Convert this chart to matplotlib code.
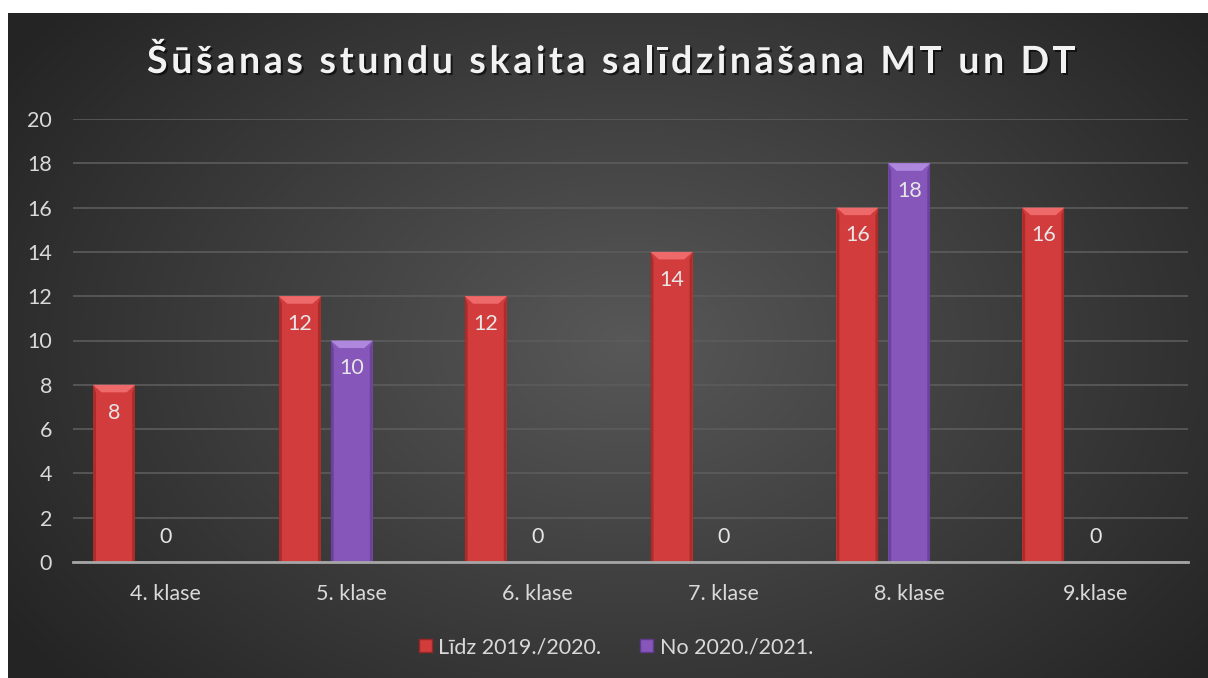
import matplotlib
matplotlib.use('Agg')
import numpy as np
import matplotlib.pyplot as plt
from matplotlib.patches import Polygon, Patch
from matplotlib.font_manager import FontProperties
import matplotlib.patheffects as pe

title = 'Šūšanas stundu skaita salīdzināšana MT un DT'
categories = ['4. klase', '5. klase', '6. klase', '7. klase', '8. klase', '9.klase']
series_names = ['Līdz 2019./2020.', 'No 2020./2021.']
lidz_2019 = [8, 12, 12, 14, 16, 16]
no_2020 = [0, 10, 0, 0, 18, 0]
y_ticks = [0, 2, 4, 6, 8, 10, 12, 14, 16, 18, 20]

FONT = ['Lato', 'DejaVu Sans']
plt.rcParams['font.family'] = FONT
FS = 15.5

W, H = 1208, 678
fig = plt.figure(figsize=(W / 100, H / 100), dpi=100)
fig.patch.set_facecolor('white')

# dark radial background
bg = fig.add_axes([8 / W, 0, 1200 / W, 665 / H])
gy, gx = np.mgrid[0:665, 0:1200]
r = np.sqrt(((gx - 620) / 750.0) ** 2 + ((gy - 330) / 520.0) ** 2)
r = np.clip(r, 0, 1)
c = (88 - (88 - 36) * r) / 255.0
bg.imshow(np.dstack([c, c, c]), extent=[0, 1, 0, 1], aspect='auto')
bg.axis('off')

ax = fig.add_axes([73 / W, 116 / H, 1115 / W, 443 / H])
ax.patch.set_alpha(0)

x = np.arange(len(categories))
bw = 0.226
offsets = [-0.279, 0.0]
styles = [('#d23c3c', '#ee6a6a', '#9c2525'), ('#8656bb', '#ad88dc', '#5f3a8c')]


def bevel_bar(xc, h, base, light, dark):
    if h <= 0:
        return
    ax.bar(xc, h, bw, color=base, zorder=3)
    l, rr = xc - bw / 2, xc + bw / 2
    dx_top, dy_top = bw * 0.2, 0.34
    dx_side = bw * 0.07
    ax.add_patch(Polygon([(l, h), (rr, h), (rr - dx_top, h - dy_top), (l + dx_top, h - dy_top)],
                         closed=True, facecolor=light, edgecolor='none', zorder=4))
    ax.add_patch(Polygon([(l, 0), (l, h), (l + dx_side, h - dy_top), (l + dx_side, 0)],
                         closed=True, facecolor=dark, edgecolor='none', alpha=0.7, zorder=4))
    ax.add_patch(Polygon([(rr, 0), (rr, h), (rr - dx_side, h - dy_top), (rr - dx_side, 0)],
                         closed=True, facecolor=dark, edgecolor='none', alpha=0.7, zorder=4))


for vals, off, st in zip([lidz_2019, no_2020], offsets, styles):
    for xi, v in zip(x, vals):
        bevel_bar(xi + off, v, *st)
        dy = -20 if v > 0 else 18
        ax.annotate(str(v), (xi + off, v), xytext=(0, dy), textcoords='offset points',
                    ha='center', va='center', color='#e6e6e6', fontsize=FS, zorder=5)

ax.set_xlim(-0.5, len(categories) - 0.5)
ax.set_ylim(0, 20)
ax.set_yticks(y_ticks)
ax.set_xticks(x)
ax.set_xticklabels(categories)
ax.yaxis.grid(True, color='#5c5c5c', lw=1.2)
ax.set_axisbelow(True)
for s in ['top', 'left', 'right']:
    ax.spines[s].set_visible(False)
ax.spines['bottom'].set_color('#a6a6a6')
ax.spines['bottom'].set_linewidth(2)
ax.spines['bottom'].set_zorder(6)
ax.tick_params(axis='both', length=0, colors='#d9d9d9', labelsize=FS)
ax.tick_params(axis='y', pad=15)
ax.tick_params(axis='x', pad=16)

handles = [Patch(facecolor=st[0], edgecolor=st[2]) for st in styles]
fig.legend(handles, series_names, loc='center', bbox_to_anchor=(616 / W, 1 - 647 / H),
           ncol=2, frameon=False, fontsize=FS, labelcolor='#d9d9d9',
           handlelength=0.6, handleheight=0.6, handletextpad=0.3, columnspacing=1.8)

# title with letter spacing, drawn char by char
fp = FontProperties(family=FONT, weight='bold', size=27)
renderer = fig.canvas.get_renderer()
widths = [renderer.get_text_width_height_descent(ch, fp, ismath=False)[0] for ch in title]
target = 928
spacing = (target - sum(widths)) / (len(title) - 1)
xpos = 611 - target / 2
shadow = [pe.SimplePatchShadow(offset=(1.5, -1.5), shadow_rgbFace='black', alpha=0.6), pe.Normal()]
for ch, w in zip(title, widths):
    fig.text(xpos / W, 1 - 73 / H, ch, fontproperties=fp, color='#f2f2f2',
             ha='left', va='baseline', path_effects=shadow)
    xpos += w + spacing

fig.savefig('out.png', dpi=100)
